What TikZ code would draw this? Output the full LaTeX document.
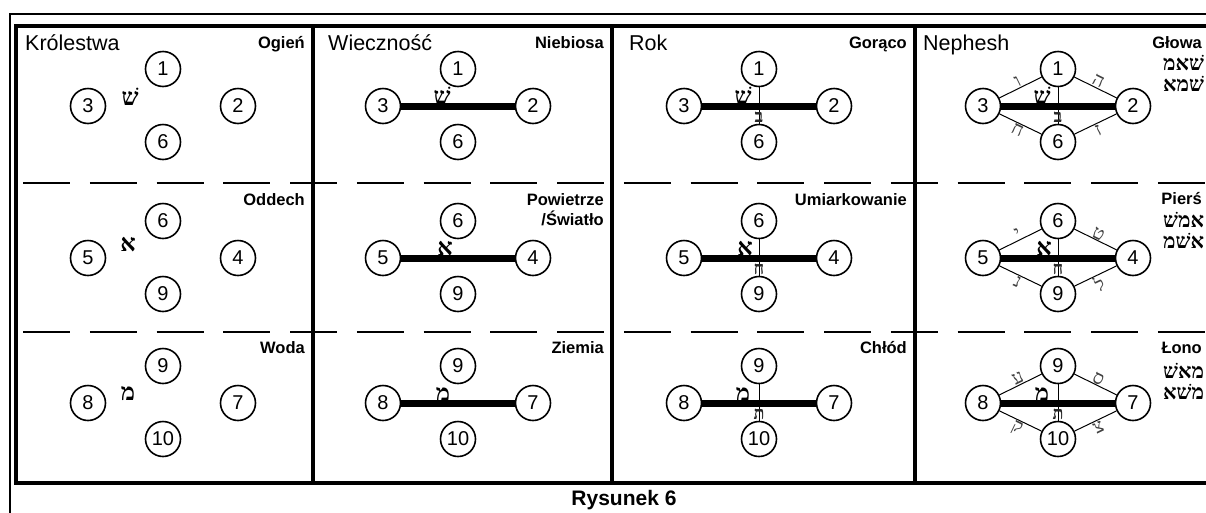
\documentclass[tikz,border=0pt]{standalone}
\usepackage{fontspec}
\setmainfont{Liberation Sans}
\newfontfamily\heb[Script=Hebrew]{Liberation Serif}
\TeXXeTstate=1
\begin{document}
\begin{tikzpicture}[x=1pt,y=-1pt,
  num/.style={circle, draw, line width=1.6pt, fill=white, minimum size=35pt, inner sep=0pt, font=\fontsize{20}{20}\selectfont},
  thickln/.style={line width=7pt},
  thinln/.style={line width=1pt},
  lbl/.style={font=\fontsize{21.5}{21.5}\selectfont, anchor=base west, inner sep=0pt},
  rlbl/.style={font=\bfseries\fontsize{16.5}{16.5}\selectfont, anchor=base east, inner sep=0pt},
  heblbl/.style={font=\heb\bfseries\fontsize{21}{21}\selectfont, anchor=base west, inner sep=0pt},
  mother/.style={font=\heb\bfseries\fontsize{24}{24}\selectfont, inner sep=0pt},
  dbl/.style={font=\heb\bfseries\fontsize{18}{18}\selectfont, text=black!85, inner sep=0pt},
  smp/.style={font=\heb\fontsize{19}{19}\selectfont, text=black!75, inner sep=0.5pt},
  frame/.style={line width=4.5pt},
  divider/.style={line width=4pt},
  sep/.style={line width=2pt, dash pattern=on 47pt off 19.75pt}
]
\useasboundingbox (0,0) rectangle (1206,512);
\clip (0,0) rectangle (1206,512);

% frame
\draw[line width=2pt] (10,520) -- (10,14) -- (1220,14);
\draw[frame] (1220,26) -- (16,26) -- (16,483) -- (1220,483);
\foreach \dx in {313,612,915,1210} \draw[divider] (\dx,26) -- (\dx,483);
\draw[sep] (23,183) -- (1220,183);
\draw[sep] (23,332) -- (1220,332);

% macro for the four circles
\newcommand\quadnodes[7]{%
  \node[num] (#1t) at (#2,#3-37) {#4};
  \node[num] (#1l) at (#2-75,#3) {#5};
  \node[num] (#1r) at (#2+75,#3) {#6};
  \node[num] (#1b) at (#2,#3+36) {#7};
}

% ---------- panel 1 ----------
\quadnodes{a1}{163}{106}{1}{3}{2}{6}
\quadnodes{a2}{163}{258}{6}{5}{4}{9}
\quadnodes{a3}{163}{403}{9}{8}{7}{10}
\node[mother] (a1m) at (130,97) {שׁ};
\node[mother] (a2m) at (128,245) {א};
\node[mother] (a3m) at (128,393) {מ};

% ---------- panel 2 ----------
\quadnodes{b1}{458}{106}{1}{3}{2}{6}
\quadnodes{b2}{458}{258}{6}{5}{4}{9}
\quadnodes{b3}{458}{403}{9}{8}{7}{10}
\draw[thickln] (b1l) -- (b1r);
\draw[thickln] (b2l) -- (b2r);
\draw[thickln] (b3l) -- (b3r);
\node[mother, anchor=base] (b1m) at (442,104) {שׁ};
\node[mother, anchor=base] (b2m) at (445,255) {א};
\node[mother, anchor=base] (b3m) at (443,401) {מ};

% ---------- panel 3 ----------
\quadnodes{c1}{759}{106}{1}{3}{2}{6}
\quadnodes{c2}{759}{258}{6}{5}{4}{9}
\quadnodes{c3}{759}{403}{9}{8}{7}{10}
\draw[thickln] (c1l) -- (c1r);
\draw[thickln] (c2l) -- (c2r);
\draw[thickln] (c3l) -- (c3r);
\draw[thinln] (c1t) -- (c1b);
\draw[thinln] (c2t) -- (c2b);
\draw[thinln] (c3t) -- (c3b);
\node[mother, anchor=base] (c1m) at (743,104) {שׁ};
\node[mother, anchor=base] (c2m) at (745,255) {א};
\node[mother, anchor=base] (c3m) at (743,401) {מ};
\node[dbl] (c1d) at (759,117) {ב};
\node[dbl] (c2d) at (759,269) {ח};
\node[dbl] (c3d) at (759,414) {ת};

% ---------- panel 4 ----------
\quadnodes{d1}{1058}{106}{1}{3}{2}{6}
\quadnodes{d2}{1058}{258}{6}{5}{4}{9}
\quadnodes{d3}{1058}{403}{9}{8}{7}{10}
\draw[thickln] (d1l) -- (d1r);
\draw[thickln] (d2l) -- (d2r);
\draw[thickln] (d3l) -- (d3r);
\draw[thinln] (d1t) -- (d1b);
\draw[thinln] (d2t) -- (d2b);
\draw[thinln] (d3t) -- (d3b);
\draw[thinln] (d1l) -- node[smp, sloped, above] (d1e1) {ו} (d1t);
\draw[thinln] (d1t) -- node[smp, sloped, above] (d1e2) {ה} (d1r);
\draw[thinln] (d1l) -- node[smp, sloped, below] (d1e3) {ח} (d1b);
\draw[thinln] (d1b) -- node[smp, sloped, below] (d1e4) {ז} (d1r);
\draw[thinln] (d2l) -- node[smp, sloped, above] (d2e1) {י} (d2t);
\draw[thinln] (d2t) -- node[smp, sloped, above] (d2e2) {ט} (d2r);
\draw[thinln] (d2l) -- node[smp, sloped, below] (d2e3) {נ} (d2b);
\draw[thinln] (d2b) -- node[smp, sloped, below] (d2e4) {ל} (d2r);
\draw[thinln] (d3l) -- node[smp, sloped, above] (d3e1) {ע} (d3t);
\draw[thinln] (d3t) -- node[smp, sloped, above] (d3e2) {ס} (d3r);
\draw[thinln] (d3l) -- node[smp, sloped, below] (d3e3) {ק} (d3b);
\draw[thinln] (d3b) -- node[smp, sloped, below] (d3e4) {צ} (d3r);
\node[mother, anchor=base] (d1m) at (1042,104) {שׁ};
\node[mother, anchor=base] (d2m) at (1044,255) {א};
\node[mother, anchor=base] (d3m) at (1042,401) {מ};
\node[dbl] (d1d) at (1058,117) {ב};
\node[dbl] (d2d) at (1058,269) {ח};
\node[dbl] (d3d) at (1058,414) {ת};

% ---------- labels ----------
\node[lbl] (t1) at (25,50) {Królestwa};
\node[lbl] (t2) at (328,50) {Wieczność};
\node[lbl] (t3) at (629,50) {Rok};
\node[lbl] (t4) at (923,50) {Nephesh};

\node[rlbl] (r11) at (305,48) {Ogień};
\node[rlbl] (r12) at (604,48) {Niebiosa};
\node[rlbl] (r13) at (907,48) {Gorąco};
\node[rlbl] (r14) at (1202,48) {Głowa};

\node[rlbl] (r21) at (305,205) {Oddech};
\node[rlbl] (r22) at (604,205) {Powietrze};
\node[rlbl] (r22b) at (604,225) {/Światło};
\node[rlbl] (r23) at (907,205) {Umiarkowanie};
\node[rlbl] (r24) at (1202,204) {Pierś};

\node[rlbl] (r31) at (305,353) {Woda};
\node[rlbl] (r32) at (604,353) {Ziemia};
\node[rlbl] (r33) at (907,353) {Chłód};
\node[rlbl] (r34) at (1202,353) {Łono};

\node[heblbl] (h11) at (1163,70) {\beginR שׁאמ\endR};
\node[heblbl] (h12) at (1163,91) {\beginR שׁמא\endR};
\node[heblbl] (h21) at (1163,227) {\beginR אמשׁ\endR};
\node[heblbl] (h22) at (1163,248) {\beginR אשׁמ\endR};
\node[heblbl] (h31) at (1163,378) {\beginR מאשׁ\endR};
\node[heblbl] (h32) at (1163,399) {\beginR משׁא\endR};

\node[font=\bfseries\fontsize{21}{21}\selectfont, anchor=base] (cap) at (624,505) {Rysunek 6};
\end{tikzpicture}
\end{document}
